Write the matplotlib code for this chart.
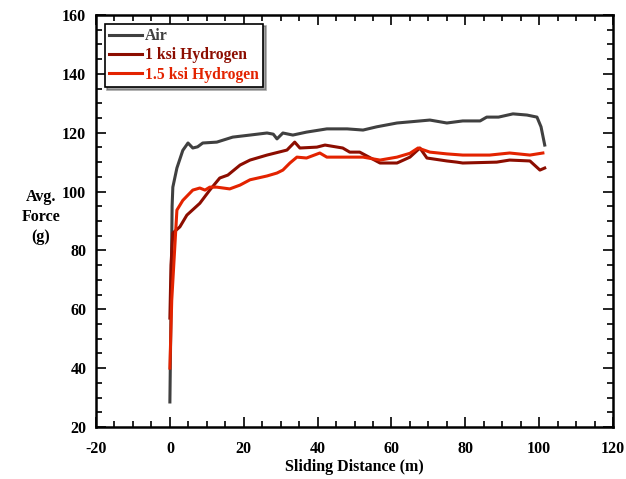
import matplotlib
matplotlib.use("Agg")
import matplotlib.pyplot as plt
from matplotlib.ticker import MultipleLocator

plt.rcParams['font.family'] = ['Liberation Serif', 'DejaVu Serif']
plt.rcParams['font.weight'] = 'bold'
plt.rcParams['axes.unicode_minus'] = False

# Air
air_x = [0, 0.3, 0.6, 0.8, 1.9, 3.5, 4.9, 6.2, 7.5, 8.9, 12.7, 17, 21.7, 26.3, 28, 29, 30.6,
         33.3, 37, 42.5, 48, 52.3, 56, 61.5, 66, 70.4, 75, 79.3, 84, 85.8, 89, 92.9,
         96.7, 99.4, 100.5, 101.5]
air_y = [28.5, 60, 95, 101.5, 108, 114, 116.5, 114.8, 115.2, 116.5, 116.8, 118.5, 119.2, 119.9,
         119.5, 117.9, 119.9, 119.2, 120.2, 121.3, 121.3, 120.9, 122, 123.3, 123.8, 124.3,
         123.3, 124, 124, 125.3, 125.3, 126.4, 126, 125.3, 122, 115.8]

# 1 ksi Hydrogen
h1_x = [0, 0.3, 0.8, 2.7, 4.6, 8.1, 10.8, 13.5, 15.7, 19, 21.7, 26.3, 31.7, 33.8, 35.2,
        39.8, 42, 46.8, 48.7, 51.4, 56.9, 61.5, 65, 67.7, 69.6, 75, 77.7, 79.3, 88.5,
        92, 97.5, 100.2, 101.5]
h1_y = [57, 75, 85.9, 88, 92, 96, 100.5, 104.6, 105.6, 109, 110.7, 112.4, 114.1, 116.8, 114.8,
        115.1, 115.8, 114.8, 113.4, 113.4, 109.7, 109.7, 111.7, 114.8, 111.4, 110.4, 110,
        109.7, 110, 110.7, 110.4, 107.3, 108]

# 1.5 ksi Hydrogen
h15_x = [0, 0.5, 1.9, 3.5, 6.2, 8.1, 9.5, 10.8, 12.7, 16.2, 19, 21.7, 26.3, 29, 30.6, 32.5,
         34.4, 37, 40.6, 42.5, 48.7, 52.3, 56.9, 61.5, 65, 67.2, 70.4, 75, 79.3, 86.6,
         92, 97.5, 101]
h15_y = [40, 63, 93.7, 97, 100.5, 101.2, 100.5, 101.5, 101.5, 100.9, 102.2, 104, 105.3, 106.3,
         107.3, 109.7, 111.7, 111.4, 113.1, 111.7, 111.7, 111.7, 110.7, 111.7, 113, 114.8,
         113.4, 112.8, 112.4, 112.4, 113.1, 112.4, 113.1]

fig = plt.figure(figsize=(6.26, 4.79), dpi=100)
ax = fig.add_axes([0.1534, 0.1086, 0.8259, 0.8601])

ax.plot(air_x, air_y, color='#404040', lw=2.2, label='Air')
ax.plot(h1_x, h1_y, color='#8c0d00', lw=2.2, label='1 ksi Hydrogen')
ax.plot(h15_x, h15_y, color='#e32300', lw=2.2, label='1.5 ksi Hydrogen')

ax.set_xlim(-20, 120)
ax.set_ylim(20, 160)
ax.xaxis.set_major_locator(MultipleLocator(20))
ax.xaxis.set_minor_locator(MultipleLocator(5))
ax.yaxis.set_major_locator(MultipleLocator(20))
ax.yaxis.set_minor_locator(MultipleLocator(5))
ax.tick_params(which='both', direction='in', top=True, right=True, labelsize=11.5, width=1.2)
ax.tick_params(which='major', length=7)
ax.tick_params(which='minor', length=4)
ax.tick_params(axis='x', pad=10)
ax.tick_params(axis='y', pad=7)
for s in ax.spines.values():
    s.set_linewidth(1.8)

ax.set_xlabel('Sliding Distance (m)', fontsize=11.5, fontweight='bold', va='center')
ax.xaxis.set_label_coords(0.5, -0.097)
ax.set_ylabel('Avg.\nForce\n(g)', fontsize=11.5, fontweight='bold', rotation=0,
              ha='center', va='center', linespacing=1.35)
ax.yaxis.set_label_coords(-0.107, 0.51)

leg = ax.legend(loc='upper left', bbox_to_anchor=(0.0, 1.0), fancybox=False, shadow=True,
                edgecolor='black', framealpha=1, labelcolor='linecolor',
                prop={'size': 11.3, 'weight': 'bold'}, handlelength=2.1, handletextpad=0.15,
                labelspacing=0.2, borderpad=0.3, borderaxespad=0.55)
leg.get_frame().set_linewidth(1.2)

fig.savefig('out.png', dpi=100)
